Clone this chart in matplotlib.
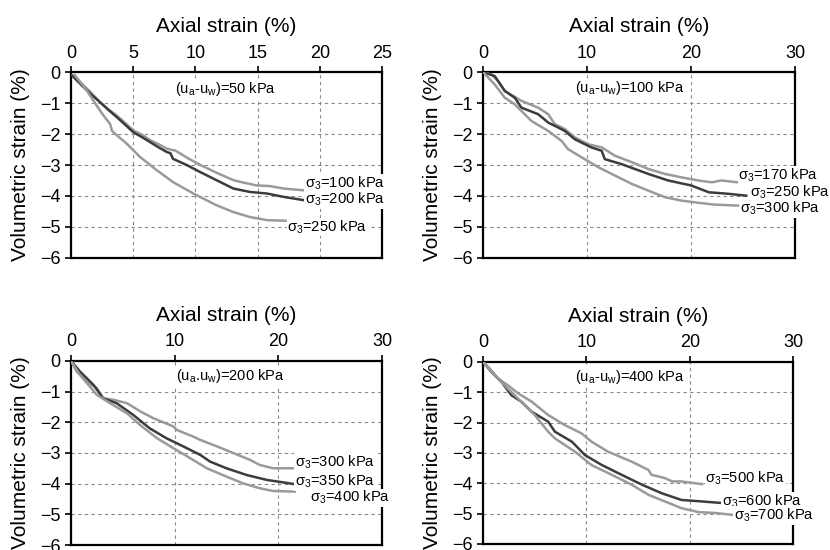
import matplotlib
matplotlib.use('Agg')
import matplotlib.pyplot as plt

plt.rcParams['font.family'] = ['Liberation Sans', 'DejaVu Sans']
plt.rcParams['mathtext.fontset'] = 'custom'
plt.rcParams['mathtext.rm'] = 'Liberation Sans'
plt.rcParams['mathtext.it'] = 'Liberation Sans'

LIGHT = '#9a9a9a'
DARK = '#3c3c3c'

# ---- panel 1: (ua-uw)=50 kPa ----
p1_x100 = [0.3, 0.72, 1.5, 2.33, 3.0, 3.67, 4.3, 5.0, 5.7, 6.36, 7.0, 7.7, 8.2, 8.37, 9.4, 10.4, 11.7, 13.06, 14.0, 14.94, 16.0, 17.1, 18.8]
p1_y100 = [-0.1, -0.32, -0.62, -0.97, -1.2, -1.4, -1.62, -1.88, -2.02, -2.2, -2.32, -2.47, -2.52, -2.53, -2.78, -3.0, -3.25, -3.49, -3.58, -3.66, -3.68, -3.76, -3.82]
p1_x200 = [0.05, 0.5, 1.0, 1.7, 2.33, 3.0, 3.67, 4.3, 5.0, 5.7, 6.36, 7.0, 7.7, 8.0, 8.2, 9.3, 10.4, 11.7, 13.06, 14.4, 15.75, 17.1, 18.8]
p1_y200 = [-0.1, -0.28, -0.48, -0.75, -0.97, -1.22, -1.45, -1.68, -1.94, -2.1, -2.26, -2.42, -2.58, -2.62, -2.8, -3.0, -3.23, -3.49, -3.76, -3.87, -3.92, -4.03, -4.14]
p1_x250 = [0.3, 0.8, 1.26, 1.8, 2.33, 2.8, 3.14, 3.3, 3.54, 4.48, 5.55, 6.9, 8.2, 9.84, 11.7, 13.06, 14.4, 15.75, 17.35]
p1_y250 = [-0.1, -0.35, -0.59, -0.92, -1.24, -1.5, -1.67, -1.9, -1.99, -2.31, -2.74, -3.17, -3.55, -3.92, -4.3, -4.52, -4.68, -4.78, -4.8]

# ---- panel 2: (ua-uw)=100 kPa ----
p2_x170 = [0, 0.8, 1.44, 2.09, 3.69, 5.3, 6.26, 6.9, 7.86, 8.82, 10.1, 11.4, 12.67, 14.3, 15.9, 17.5, 19.1, 20.7, 22.0, 22.9, 24.5]
p2_y170 = [0, -0.08, -0.29, -0.61, -0.93, -1.15, -1.36, -1.68, -1.84, -2.11, -2.33, -2.43, -2.7, -2.91, -3.13, -3.29, -3.4, -3.5, -3.56, -3.5, -3.56]
p2_x250 = [0, 1.12, 2.09, 3.05, 3.69, 5.3, 6.26, 7.86, 8.82, 10.4, 11.4, 11.7, 13.3, 15.9, 17.8, 20.0, 21.7, 23.6, 25.3]
p2_y250 = [0, -0.13, -0.61, -0.83, -1.15, -1.36, -1.63, -1.9, -2.17, -2.43, -2.54, -2.81, -2.97, -3.29, -3.5, -3.66, -3.88, -3.93, -3.99]
p2_x300 = [0, 1.12, 2.09, 3.05, 4.65, 6.26, 7.54, 8.18, 9.46, 11.07, 12.67, 14.3, 15.9, 17.5, 19.1, 20.7, 22.3, 24.5]
p2_y300 = [0, -0.4, -0.83, -1.04, -1.58, -1.9, -2.22, -2.49, -2.75, -3.07, -3.34, -3.61, -3.83, -4.04, -4.15, -4.22, -4.28, -4.31]

# ---- panel 3: (ua-uw)=200 kPa ----
p3_x300 = [0, 0.55, 1.5, 2.5, 3.1, 4.1, 5.4, 6.7, 7.95, 9.9, 10.2, 11.8, 12.5, 14.1, 15.7, 17.3, 18.2, 19.5, 21.5]
p3_y300 = [0, -0.35, -0.67, -0.89, -1.22, -1.27, -1.38, -1.65, -1.87, -2.14, -2.25, -2.47, -2.58, -2.79, -3.01, -3.23, -3.39, -3.5, -3.5]
p3_x350 = [0, 0.87, 2.16, 3.1, 4.4, 6.0, 7.6, 9.2, 10.85, 12.5, 13.4, 15.0, 16.96, 18.9, 20.5, 21.6]
p3_y350 = [0, -0.35, -0.78, -1.22, -1.38, -1.76, -2.2, -2.52, -2.79, -3.07, -3.28, -3.5, -3.72, -3.88, -3.96, -4.02]
p3_x400 = [0, 0.87, 2.5, 3.77, 5.4, 6.66, 8.3, 9.9, 11.5, 13.1, 15.0, 16.6, 18.2, 19.5, 21.6]
p3_y400 = [0, -0.46, -1.11, -1.38, -1.71, -2.09, -2.52, -2.85, -3.17, -3.5, -3.77, -3.99, -4.15, -4.24, -4.26]

# ---- panel 4: (ua-uw)=400 kPa ----
p4_x500 = [0, 0.65, 1.45, 2.4, 3.4, 4.7, 6.3, 7.9, 9.5, 10.5, 12.1, 14.4, 16.0, 16.3, 17.6, 18.3, 19.2, 21.2]
p4_y500 = [0, -0.22, -0.55, -0.77, -1.04, -1.31, -1.75, -2.08, -2.35, -2.63, -2.96, -3.29, -3.56, -3.72, -3.83, -3.94, -3.94, -4.03]
p4_x600 = [0, 0.8, 1.78, 2.75, 3.7, 4.7, 6.3, 6.95, 8.6, 9.86, 11.5, 13.4, 15.4, 17.3, 19.2, 21.2, 23.1]
p4_y600 = [0, -0.33, -0.66, -1.1, -1.31, -1.64, -1.97, -2.3, -2.63, -3.07, -3.4, -3.72, -4.05, -4.33, -4.55, -4.6, -4.65]
p4_x700 = [0, 1.13, 2.4, 3.7, 5.0, 6.3, 6.95, 8.9, 10.5, 12.45, 14.4, 16.0, 17.6, 19.2, 20.85, 22.5, 24.1]
p4_y700 = [0, -0.44, -0.88, -1.31, -1.75, -2.3, -2.52, -2.96, -3.4, -3.72, -4.05, -4.38, -4.6, -4.82, -4.95, -4.98, -5.04]

panels = [
    dict(rect=[0.0855, 0.531, 0.3747, 0.338], xmax=25, xticks=[0, 5, 10, 15, 20, 25],
         note=r'(u$_\mathrm{a}$-u$_\mathrm{w}$)=50 kPa', note_xy=(12.4, -0.54),
         curves=[(p1_x100, p1_y100, LIGHT, 'σ$_3$=100 kPa', (18.8, -3.6)),
                 (p1_x200, p1_y200, DARK, 'σ$_3$=200 kPa', (18.8, -4.12)),
                 (p1_x250, p1_y250, LIGHT, 'σ$_3$=250 kPa', (17.4, -5.0))]),
    dict(rect=[0.582, 0.531, 0.376, 0.338], xmax=30, xticks=[0, 10, 20, 30],
         note=r'(u$_\mathrm{a}$-u$_\mathrm{w}$)=100 kPa', note_xy=(14.1, -0.53),
         curves=[(p2_x170, p2_y170, LIGHT, 'σ$_3$=170 kPa', (24.55, -3.34)),
                 (p2_x250, p2_y250, DARK, 'σ$_3$=250 kPa', (25.7, -3.88)),
                 (p2_x300, p2_y300, LIGHT, 'σ$_3$=300 kPa', (24.7, -4.41))]),
    dict(rect=[0.0855, 0.009, 0.3747, 0.335], xmax=30, xticks=[0, 10, 20, 30],
         note=r'(u$_\mathrm{a}$.u$_\mathrm{w}$)=200 kPa', note_xy=(15.35, -0.51),
         curves=[(p3_x300, p3_y300, LIGHT, 'σ$_3$=300 kPa', (21.6, -3.3)),
                 (p3_x350, p3_y350, DARK, 'σ$_3$=350 kPa', (21.6, -3.93)),
                 (p3_x400, p3_y400, LIGHT, 'σ$_3$=400 kPa', (23.1, -4.46))]),
    dict(rect=[0.582, 0.011, 0.3735, 0.331], xmax=30, xticks=[0, 10, 20, 30],
         note=r'(u$_\mathrm{a}$-u$_\mathrm{w}$)=400 kPa', note_xy=(14.2, -0.49),
         curves=[(p4_x500, p4_y500, LIGHT, 'σ$_3$=500 kPa', (21.5, -3.83)),
                 (p4_x600, p4_y600, DARK, 'σ$_3$=600 kPa', (23.1, -4.6)),
                 (p4_x700, p4_y700, LIGHT, 'σ$_3$=700 kPa', (24.25, -5.06))]),
]

fig = plt.figure(figsize=(8.3, 5.5), dpi=100)

for p in panels:
    ax = fig.add_axes(p['rect'])
    ax.set_xlim(0, p['xmax'])
    ax.set_ylim(-6, 0)
    ax.set_xticks(p['xticks'])
    ax.set_yticks(range(-6, 1))
    ax.xaxis.tick_top()
    ax.xaxis.set_label_position('top')
    ax.set_xlabel('Axial strain (%)', fontsize=15, labelpad=9)
    ax.set_ylabel('Volumetric strain (%)', fontsize=15, labelpad=7)
    ax.tick_params(labelsize=13, length=4, width=1.2, direction='out')
    for s in ax.spines.values():
        s.set_linewidth(1.6)
    ax.grid(True, color='#8a8a8a', lw=0.8, ls=(0, (3, 3)))
    ax.set_axisbelow(True)
    for xs, ys, c, lab, (lx, ly) in p['curves']:
        ax.plot(xs, ys, color=c, lw=1.8, zorder=3)
        ax.text(lx, ly, lab, fontsize=10.6, ha='left', va='center', zorder=6, clip_on=False,
                bbox=dict(facecolor='white', edgecolor='none', pad=0.3))
    ax.text(p['note_xy'][0], p['note_xy'][1], p['note'], fontsize=10.5, ha='center', va='center',
            bbox=dict(facecolor='white', edgecolor='none', pad=0.5), zorder=6)

fig.savefig('out.png', dpi=100)
